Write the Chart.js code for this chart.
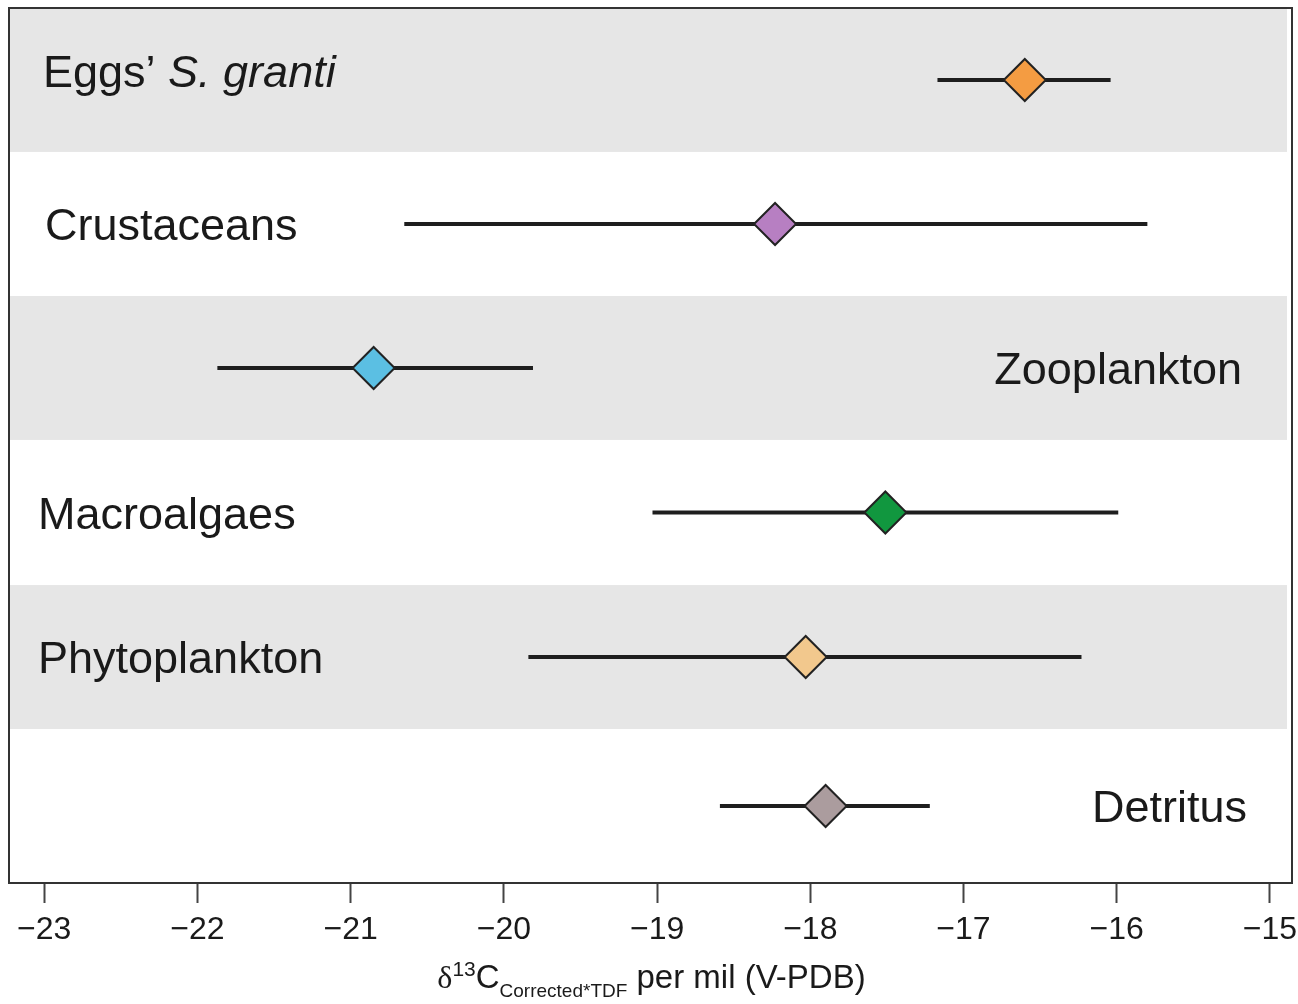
<!DOCTYPE html>
<html>
<head>
<meta charset="utf-8">
<script src="https://cdn.jsdelivr.net/npm/chart.js@4.4.1/dist/chart.umd.min.js"></script>
<style>
  html, body { margin: 0; padding: 0; background: #fff; }
  #wrap { width: 1298px; height: 1004px; }
</style>
</head>
<body>
<div id="wrap"><canvas id="c"></canvas></div>
<script>
// rows top to bottom
const categories = ["Eggs’ S. granti", "Crustaceans", "Zooplankton", "Macroalgaes", "Phytoplankton", "Detritus"];
const means = [-16.60, -18.23, -20.85, -17.51, -18.03, -17.90];
const lows  = [-17.17, -20.65, -21.87, -19.03, -19.84, -18.59];
const highs = [-16.04, -15.80, -19.81, -15.99, -16.23, -17.22];
const colors = ["#f49c42", "#b77fc2", "#5bbfe3", "#11973f", "#f2c88d", "#ab9c9e"];
const tickValues = [-23, -22, -21, -20, -19, -18, -17, -16, -15];
// band edges on the y scale (0 = top of plot, 6 = bottom)
const bandEdges = [0, 0.987, 1.975, 2.962, 3.957, 4.944, 6];

const rowY = categories.map((c, i) => (bandEdges[i] + bandEdges[i + 1]) / 2);
const labelSide = ["left", "left", "right", "left", "left", "right"];

const FONT = "'Liberation Sans', Arial, Helvetica, sans-serif";

const errorSets = categories.map((c, i) => ({
    type: "line",
    data: [{x: lows[i], y: rowY[i]}, {x: highs[i], y: rowY[i]}],
    borderColor: "#1e1e1e",
    borderWidth: 4,
    pointRadius: 0,
    order: 2
}));

const pointSet = {
    type: "scatter",
    data: means.map((m, i) => ({x: m, y: rowY[i]})),
    pointStyle: "rectRot",
    pointRadius: 21,
    pointHoverRadius: 21,
    backgroundColor: colors,
    borderColor: "#222",
    borderWidth: 2,
    order: 1
};

const bandsPlugin = {
    id: "bands",
    beforeDatasetsDraw(chart) {
        const {ctx, chartArea, scales} = chart;
        ctx.save();
        ctx.fillStyle = "#e6e6e6";
        for (let i = 0; i < categories.length; i += 2) {
            const y1 = scales.y.getPixelForValue(bandEdges[i]);
            const y2 = scales.y.getPixelForValue(bandEdges[i + 1]);
            ctx.fillRect(chartArea.left, y1, chartArea.right - chartArea.left - 5, y2 - y1);
        }
        ctx.restore();
    }
};

const labelsPlugin = {
    id: "labels",
    afterDatasetsDraw(chart) {
        const {ctx, chartArea, scales} = chart;
        ctx.save();
        ctx.fillStyle = "#1a1a1a";
        ctx.textBaseline = "alphabetic";
        categories.forEach((name, i) => {
            const y = scales.y.getPixelForValue(rowY[i]) + 16;
            if (i === 0) {
                // species name in italics
                const parts = name.split(" ");
                const plain = parts[0] + " ";
                const ital = parts.slice(1).join(" ");
                let x = chartArea.left + 34;
                ctx.textAlign = "left";
                ctx.font = "45px " + FONT;
                ctx.fillText(plain, x, y - 9);
                x += ctx.measureText(plain).width;
                ctx.font = "italic 45px " + FONT;
                ctx.fillText(ital, x, y - 9);
                return;
            }
            ctx.font = "45px " + FONT;
            if (labelSide[i] === "left") {
                ctx.textAlign = "left";
                ctx.fillText(name, chartArea.left + (i === 1 ? 36 : 29), y);
            } else {
                ctx.textAlign = "right";
                ctx.fillText(name, chartArea.right - (i === 5 ? 45 : 50), y);
            }
        });
        ctx.restore();
    }
};

const framePlugin = {
    id: "frame",
    afterDraw(chart) {
        const {ctx, chartArea} = chart;
        ctx.save();
        ctx.strokeStyle = "#333";
        ctx.lineWidth = 2;
        ctx.strokeRect(chartArea.left, chartArea.top, chartArea.right - chartArea.left, chartArea.bottom - chartArea.top);

        // axis title with super- and subscript
        const cx = (chartArea.left + chartArea.right) / 2 + 1;
        const base = 988;
        const pieces = [
            {t: "δ", font: "32px 'Liberation Serif', 'Times New Roman', serif", dy: 0},
            {t: "13", font: "21px " + FONT, dy: -12},
            {t: "C", font: "33px " + FONT, dy: 0},
            {t: "Corrected*TDF", font: "19px " + FONT, dy: 9},
            {t: " per mil (V-PDB)", font: "33px " + FONT, dy: 0}
        ];
        let total = 0;
        pieces.forEach(p => { ctx.font = p.font; p.w = ctx.measureText(p.t).width; total += p.w; });
        let x = cx - total / 2;
        ctx.fillStyle = "#1a1a1a";
        ctx.textAlign = "left";
        ctx.textBaseline = "alphabetic";
        pieces.forEach(p => {
            ctx.font = p.font;
            ctx.fillText(p.t, x, base + p.dy);
            x += p.w;
        });
        ctx.restore();
    }
};

new Chart(document.getElementById("c"), {
    data: {datasets: [...errorSets, pointSet]},
    options: {
        responsive: true,
        maintainAspectRatio: false,
        animation: false,
        events: [],
        layout: {autoPadding: false, padding: {left: 9, right: 6, top: 8, bottom: 0}},
        plugins: {legend: {display: false}, tooltip: {enabled: false}},
        scales: {
            x: {
                type: "linear",
                min: -23.23,
                max: -14.856,
                afterBuildTicks(scale) {
                    scale.ticks = tickValues.map(v => ({value: v}));
                },
                afterFit(scale) {
                    scale.height = 121;
                    scale.paddingLeft = 0;
                    scale.paddingRight = 0;
                },
                ticks: {
                    color: "#1a1a1a",
                    font: {family: FONT, size: 32},
                    padding: 8,
                    maxRotation: 0,
                    callback: v => String(v).replace("-", "\u2212")
                },
                grid: {drawOnChartArea: false, tickLength: 20, tickWidth: 2, color: "#444"},
                border: {display: true, color: "#333", width: 2}
            },
            y: {
                type: "linear",
                min: 0,
                max: 6,
                reverse: true,
                display: false
            }
        }
    },
    plugins: [bandsPlugin, labelsPlugin, framePlugin]
});
</script>
</body>
</html>
